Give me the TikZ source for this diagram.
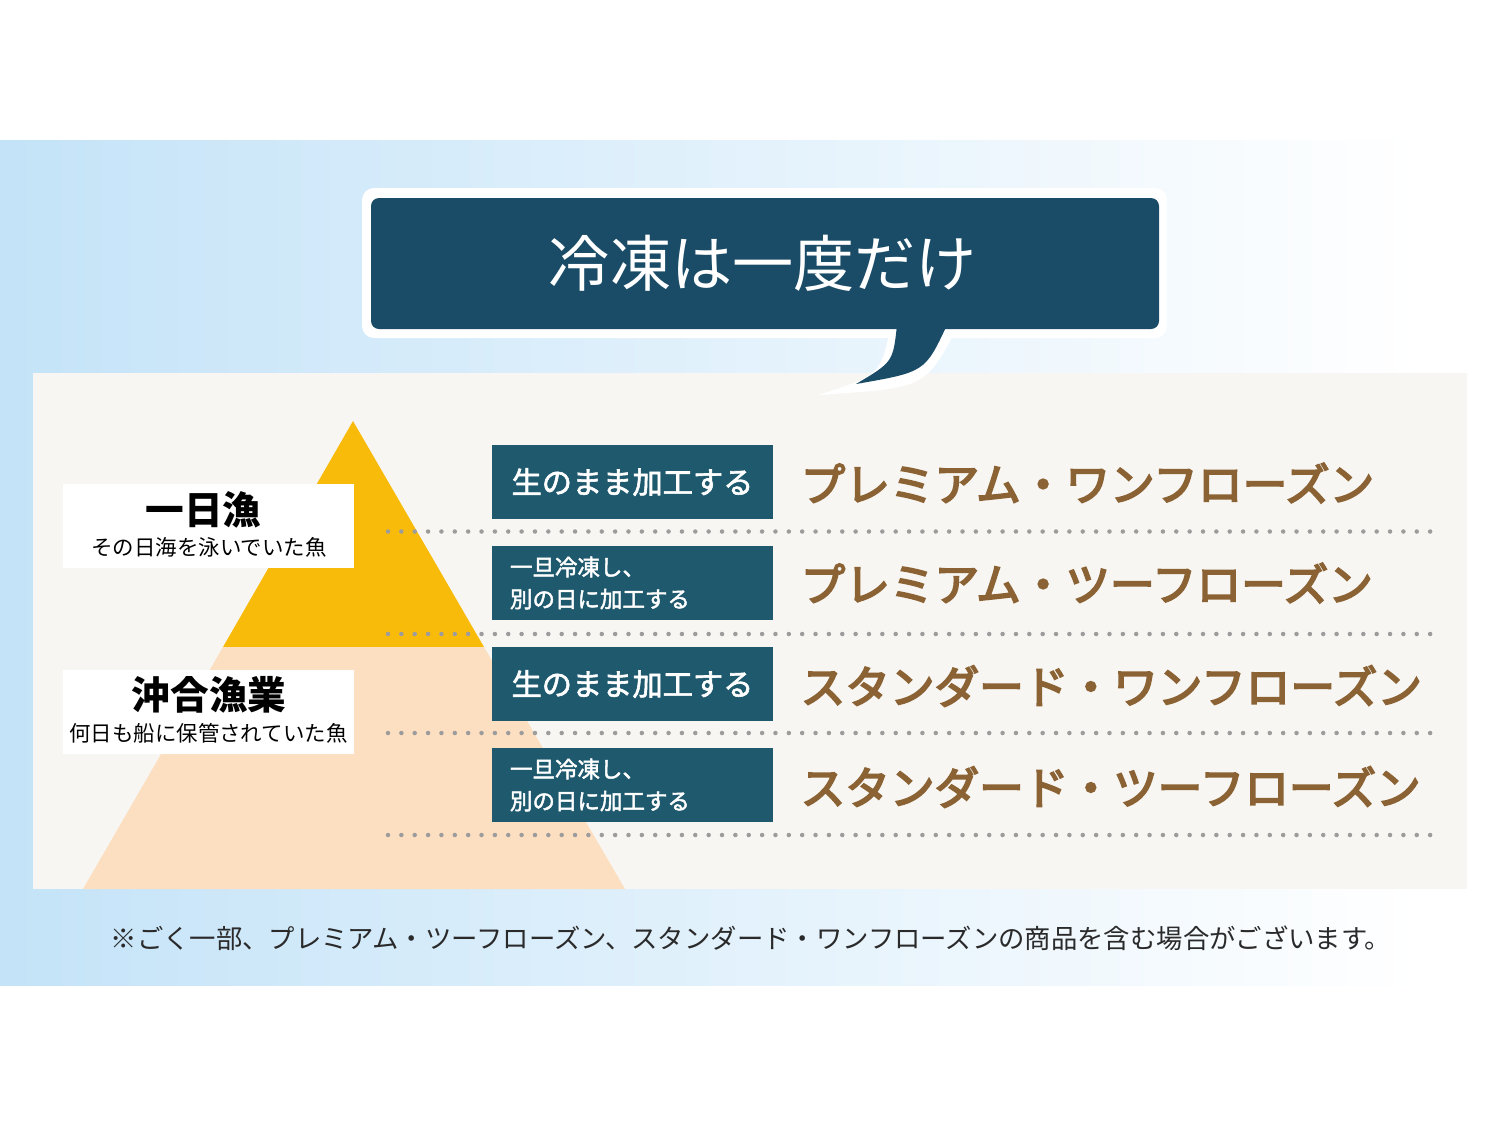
\documentclass[tikz,border=0pt]{standalone}
\usepackage{fontspec}
\setmainfont{Noto Sans CJK JP}
\newfontfamily\gradefont[FakeBold=4]{Noto Sans CJK JP}
\newfontfamily\stepfont[FakeBold=2]{Noto Sans CJK JP}
\definecolor{bandblue}{HTML}{C4E3F8}
\definecolor{panelgray}{HTML}{F7F6F2}
\definecolor{bubblenavy}{HTML}{1A4C67}
\definecolor{tealbox}{HTML}{1F596D}
\definecolor{gold}{HTML}{F8BB0A}
\definecolor{peach}{HTML}{FCDFC1}
\definecolor{gradebrown}{HTML}{8A6234}
\definecolor{dotgray}{HTML}{9C9C9C}
\definecolor{notegray}{HTML}{2A2A2A}

\begin{document}
\begin{tikzpicture}[
    stepbox/.style={fill=tealbox, text=white, minimum height=0.74cm, inner xsep=0.18cm, inner ysep=0pt, text width=2.45cm},
    onestep/.style={stepbox, align=center, font=\stepfont\fontsize{8.6}{10}\selectfont},
    twostep/.style={stepbox, align=left, font=\stepfont\fontsize{6.4}{9.1}\selectfont},
    grade/.style={anchor=west, inner sep=0pt, text=gradebrown, font=\gradefont\fontsize{12.7}{15}\selectfont},
    lblbox/.style={fill=white, minimum width=2.91cm, minimum height=0.84cm, inner sep=0pt},
    lblhead/.style={inner sep=0pt, font=\fontsize{11}{13}\selectfont\bfseries},
    lblsub/.style={inner sep=0pt, font=\fontsize{6.1}{7.5}\selectfont},
    dotline/.style={dotgray, line width=0.045cm, line cap=round, dash pattern=on 0pt off 0.1336cm}
]

    % background
    \fill[white] (0,0) rectangle (15,-11.25);
    \shade[left color=bandblue, right color=white] (0,-1.40) rectangle (14.2,-9.85);
    \fill[panelgray] (0.33,-3.73) rectangle (14.67,-8.89);

    % pyramid
    \fill[gold] (3.53,-4.21) -- (4.84,-6.47) -- (2.23,-6.47) -- cycle;
    \fill[peach] (2.23,-6.47) -- (4.84,-6.47) -- (6.25,-8.89) -- (0.83,-8.89) -- cycle;

    % dotted rules
    \foreach \y in {5.315, 6.34, 7.33, 8.35}
        \draw[dotline] (3.88,-\y) -- (14.32,-\y);

    % speech bubble
    \fill[white, rounded corners=0.12cm] (3.62,-1.88) rectangle (11.67,-3.38);
    \fill[white] (8.90,-3.30) .. controls (8.80,-3.75) .. (8.18,-3.95) .. controls (9.25,-3.88) .. (9.56,-3.30) -- cycle;
    \fill[bubblenavy, rounded corners=0.08cm] (3.71,-1.98) rectangle (11.59,-3.29);
    \fill[bubblenavy] (8.97,-3.25) .. controls (8.93,-3.62) .. (8.56,-3.84) .. controls (9.25,-3.72) .. (9.47,-3.25) -- cycle;
    \node[text=white, font=\fontsize{17.4}{20}\selectfont] (title) at (7.63,-2.635) {冷凍は一度だけ};

    % catch labels
    \node[lblbox] (dayfish) at (2.085,-5.26) {};
    \node[lblhead] (dayhead) at (2.035,-5.10) {一日漁};
    \node[lblsub] (daysub) at (2.09,-5.47) {その日海を泳いでいた魚};
    \node[lblbox] (seafish) at (2.085,-7.12) {};
    \node[lblhead] (seahead) at (2.09,-6.95) {沖合漁業};
    \node[lblsub] (seasub) at (2.085,-7.33) {何日も船に保管されていた魚};

    % processing steps
    \node[onestep] (p1) at (6.325,-4.82) {生のまま加工する};
    \node[twostep] (p2) at (6.325,-5.83) {一旦冷凍し、\\別の日に加工する};
    \node[onestep] (s1) at (6.325,-6.84) {生のまま加工する};
    \node[twostep] (s2) at (6.325,-7.85) {一旦冷凍し、\\別の日に加工する};

    % grades
    \node[grade] (g1) at (8.00,-4.83) {プレミアム・ワンフローズン};
    \node[grade] (g2) at (8.00,-5.83) {プレミアム・ツーフローズン};
    \node[grade] (g3) at (8.00,-6.86) {スタンダード・ワンフローズン};
    \node[grade] (g4) at (8.00,-7.87) {スタンダード・ツーフローズン};

    % note
    \node[text=notegray, font=\fontsize{7.5}{9}\selectfont] (note) at (7.51,-9.38) {※ごく一部、プレミアム・ツーフローズン、スタンダード・ワンフローズンの商品を含む場合がございます。};

\end{tikzpicture}
\end{document}
